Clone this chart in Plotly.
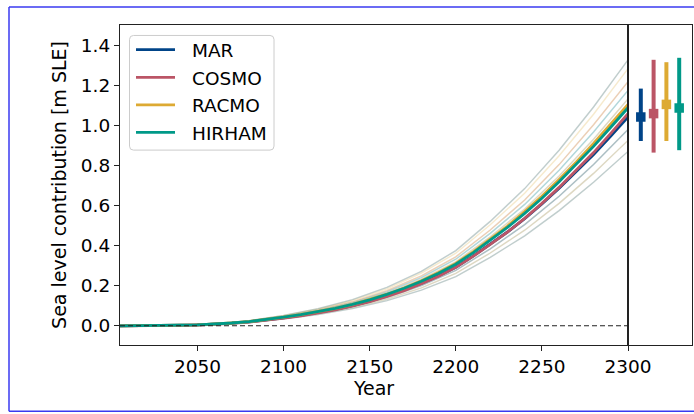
import plotly.graph_objects as go

# ---------------- data ----------------
models = ["MAR", "COSMO", "RACMO", "HIRHAM"]
colors = {"MAR": "#004488", "COSMO": "#BB5566", "RACMO": "#DDAA33", "HIRHAM": "#009988"}

years = [2005, 2010, 2020, 2030, 2040, 2050, 2060, 2070, 2080, 2090, 2100, 2110, 2120,
         2130, 2140, 2150, 2160, 2170, 2180, 2190, 2200, 2210, 2220, 2230, 2240, 2250,
         2260, 2270, 2280, 2290, 2300]

mar_mean = [0, 0, 0.001, 0.002, 0.003, 0.005, 0.008, 0.013, 0.020, 0.029, 0.040, 0.052, 0.066,
            0.082, 0.101, 0.123, 0.149, 0.179, 0.212, 0.250, 0.293, 0.348, 0.408, 0.469, 0.536,
            0.609, 0.688, 0.770, 0.857, 0.949, 1.044]
cosmo_mean = [0, 0, 0.001, 0.001, 0.002, 0.004, 0.007, 0.012, 0.018, 0.027, 0.038, 0.050, 0.064,
              0.080, 0.099, 0.121, 0.147, 0.176, 0.210, 0.248, 0.292, 0.347, 0.407, 0.468, 0.537,
              0.612, 0.692, 0.777, 0.866, 0.962, 1.061]
racmo_mean = [0, 0, 0.001, 0.002, 0.003, 0.005, 0.009, 0.014, 0.021, 0.031, 0.043, 0.056, 0.070,
              0.087, 0.107, 0.131, 0.158, 0.189, 0.225, 0.266, 0.312, 0.370, 0.434, 0.499, 0.571,
              0.648, 0.732, 0.819, 0.912, 1.009, 1.107]
hirham_mean = [0, 0, 0.001, 0.002, 0.003, 0.005, 0.009, 0.014, 0.021, 0.031, 0.043, 0.056, 0.070,
               0.087, 0.107, 0.130, 0.157, 0.188, 0.223, 0.263, 0.308, 0.365, 0.428, 0.492, 0.562,
               0.638, 0.720, 0.806, 0.897, 0.993, 1.090]

member_years = [2005, 2020, 2040, 2060, 2080, 2100, 2120, 2140, 2160, 2180, 2200, 2220, 2240,
                2260, 2280, 2300]

mar_members = [
    [0, 0.001, 0.003, 0.008, 0.018, 0.037, 0.060, 0.091, 0.133, 0.190, 0.262, 0.364, 0.478, 0.612, 0.762, 0.927],
    [0, 0.001, 0.003, 0.008, 0.019, 0.039, 0.063, 0.096, 0.141, 0.201, 0.277, 0.385, 0.506, 0.648, 0.807, 0.981],
    [0, 0.001, 0.003, 0.009, 0.020, 0.041, 0.067, 0.102, 0.149, 0.212, 0.293, 0.407, 0.534, 0.684, 0.852, 1.036],
    [0, 0.001, 0.003, 0.009, 0.022, 0.045, 0.073, 0.111, 0.163, 0.232, 0.320, 0.445, 0.584, 0.749, 0.933, 1.134],
    [0, 0.001, 0.003, 0.010, 0.023, 0.046, 0.076, 0.116, 0.170, 0.241, 0.333, 0.462, 0.607, 0.778, 0.969, 1.177],
]
cosmo_members = [
    [0, 0.001, 0.002, 0.007, 0.017, 0.034, 0.056, 0.086, 0.126, 0.178, 0.246, 0.342, 0.450, 0.576, 0.718, 0.872],
    [0, 0.001, 0.003, 0.008, 0.019, 0.039, 0.063, 0.096, 0.141, 0.201, 0.277, 0.385, 0.506, 0.648, 0.807, 0.981],
    [0, 0.001, 0.003, 0.009, 0.021, 0.043, 0.070, 0.107, 0.157, 0.223, 0.308, 0.428, 0.562, 0.720, 0.897, 1.090],
    [0, 0.001, 0.003, 0.010, 0.024, 0.048, 0.078, 0.120, 0.176, 0.250, 0.345, 0.479, 0.629, 0.806, 1.005, 1.221],
    [0, 0.001, 0.004, 0.011, 0.026, 0.052, 0.085, 0.131, 0.192, 0.272, 0.376, 0.522, 0.686, 0.878, 1.094, 1.330],
]
racmo_members = [
    [0, 0.001, 0.003, 0.008, 0.018, 0.037, 0.060, 0.091, 0.133, 0.190, 0.262, 0.364, 0.478, 0.612, 0.762, 0.927],
    [0, 0.001, 0.003, 0.009, 0.020, 0.041, 0.067, 0.102, 0.149, 0.212, 0.293, 0.407, 0.534, 0.684, 0.852, 1.036],
    [0, 0.001, 0.003, 0.009, 0.022, 0.045, 0.073, 0.111, 0.163, 0.232, 0.320, 0.445, 0.584, 0.749, 0.933, 1.134],
    [0, 0.001, 0.003, 0.010, 0.024, 0.048, 0.078, 0.120, 0.176, 0.250, 0.345, 0.479, 0.629, 0.806, 1.005, 1.221],
    [0, 0.001, 0.004, 0.011, 0.025, 0.051, 0.083, 0.126, 0.185, 0.263, 0.363, 0.505, 0.663, 0.850, 1.058, 1.286],
]
hirham_members = [
    [0, 0.001, 0.002, 0.007, 0.017, 0.034, 0.056, 0.086, 0.126, 0.178, 0.246, 0.342, 0.450, 0.576, 0.718, 0.872],
    [0, 0.001, 0.003, 0.008, 0.019, 0.039, 0.063, 0.096, 0.141, 0.201, 0.277, 0.385, 0.506, 0.648, 0.807, 0.981],
    [0, 0.001, 0.003, 0.009, 0.021, 0.044, 0.071, 0.108, 0.158, 0.224, 0.310, 0.430, 0.565, 0.724, 0.902, 1.096],
    [0, 0.001, 0.003, 0.010, 0.023, 0.046, 0.076, 0.116, 0.170, 0.241, 0.333, 0.462, 0.607, 0.778, 0.969, 1.177],
    [0, 0.001, 0.004, 0.011, 0.026, 0.052, 0.085, 0.131, 0.192, 0.272, 0.376, 0.522, 0.686, 0.878, 1.094, 1.330],
]

# 2300 summary per model: median, lower, upper
bar_pos = [1, 2, 3, 4]
bar_median = [1.044, 1.061, 1.107, 1.089]
bar_low = [0.924, 0.866, 0.924, 0.878]
bar_high = [1.186, 1.330, 1.318, 1.340]

y_ticks = [0.0, 0.2, 0.4, 0.6, 0.8, 1.0, 1.2, 1.4]
x_ticks = [2050, 2100, 2150, 2200, 2250, 2300]

means = {"MAR": mar_mean, "COSMO": cosmo_mean, "RACMO": racmo_mean, "HIRHAM": hirham_mean}
members = {"MAR": mar_members, "COSMO": cosmo_members, "RACMO": racmo_members, "HIRHAM": hirham_members}
member_opacity = {"MAR": 0.12, "COSMO": 0.2, "RACMO": 0.24, "HIRHAM": 0.2}

# ---------------- figure ----------------
FONT = "DejaVu Sans"
FS = 18.5
W, H = 694, 414
L, R, T, B = 120, 2, 24.5, 68.5
pw, ph = W - L - R, H - T - B
split = (628 - L) / pw


def px_x(px):
    return (px - L) / pw


def px_y(py):
    return (H - B - py) / ph


fig = go.Figure()

for m in models:
    for series in members[m]:
        fig.add_trace(go.Scatter(x=member_years, y=series, mode="lines",
                                 line=dict(color=colors[m], width=1.4), opacity=member_opacity[m],
                                 showlegend=False, hoverinfo="skip", xaxis="x", yaxis="y"))

for m in models:
    fig.add_trace(go.Scatter(x=years, y=means[m], mode="lines", name=m,
                             line=dict(color=colors[m], width=2.8),
                             showlegend=False, xaxis="x", yaxis="y"))

for i, m in enumerate(models):
    fig.add_trace(go.Scatter(
        x=[bar_pos[i]], y=[bar_median[i]], mode="markers",
        marker=dict(symbol="square", size=9.5, color=colors[m]),
        error_y=dict(type="data", symmetric=False,
                     array=[bar_high[i] - bar_median[i]],
                     arrayminus=[bar_median[i] - bar_low[i]],
                     color=colors[m], thickness=4, width=0),
        showlegend=False, xaxis="x2", yaxis="y2"))

fig.add_shape(type="line", xref="x", yref="y", x0=2005, x1=2300, y0=0, y1=0,
              line=dict(color="#222222", width=1.1, dash="5px,3px"))

# outer blue frame (top, left, bottom edges; right edge lies outside the picture)
frame = dict(color="#3a3af0", width=1.5)
fig.add_shape(type="line", xref="paper", yref="paper", x0=px_x(9), x1=px_x(W + 10),
              y0=px_y(6.5), y1=px_y(6.5), line=frame, layer="below")
fig.add_shape(type="line", xref="paper", yref="paper", x0=px_x(9), x1=px_x(W + 10),
              y0=px_y(412), y1=px_y(412), line=frame, layer="below")
fig.add_shape(type="line", xref="paper", yref="paper", x0=px_x(9), x1=px_x(9),
              y0=px_y(412), y1=px_y(6.5), line=frame, layer="below")

# legend (drawn manually to match matplotlib style)
lx0, lx1, ly0, ly1, rr = 129.5, 274, 35, 150, 4
xa, xb = px_x(lx0), px_x(lx1)
ya, yb = px_y(ly0), px_y(ly1)
rx, ry = rr / pw, rr / ph
path = (f"M {xa+rx},{ya} L {xb-rx},{ya} Q {xb},{ya} {xb},{ya-ry} "
        f"L {xb},{yb+ry} Q {xb},{yb} {xb-rx},{yb} L {xa+rx},{yb} "
        f"Q {xa},{yb} {xa},{yb+ry} L {xa},{ya-ry} Q {xa},{ya} {xa+rx},{ya} Z")
fig.add_shape(type="path", xref="paper", yref="paper", path=path,
              fillcolor="rgba(255,255,255,0.8)", line=dict(color="#cccccc", width=1))
row_y = [49.3, 77.0, 104.7, 132.3]
for m, yy in zip(models, row_y):
    fig.add_shape(type="line", xref="paper", yref="paper",
                  x0=px_x(136), x1=px_x(175), y0=px_y(yy), y1=px_y(yy),
                  line=dict(color=colors[m], width=2.8))
    fig.add_annotation(xref="paper", yref="paper", x=px_x(190), y=px_y(yy + 1),
                       xanchor="left", yanchor="middle", text=m, showarrow=False,
                       font=dict(family=FONT, size=FS, color="black"))

axis_line = dict(showline=True, linecolor="#222222", linewidth=1.2, mirror=True,
                 showgrid=False, zeroline=False, automargin=False)
title_font = dict(family=FONT, size=19, color="black")

fig.update_layout(
    width=W, height=H,
    margin=dict(l=L, r=R, t=T, b=B, pad=0, autoexpand=False),
    paper_bgcolor="white", plot_bgcolor="white",
    font=dict(family=FONT, size=FS, color="black"),
    xaxis=dict(domain=[0, split], range=[2005, 2300], tickvals=x_ticks,
               ticks="outside", ticklen=5, tickwidth=1.2, tickcolor="#222222",
               tickfont=dict(size=FS),
               title=dict(text="Year", standoff=5, font=title_font), **axis_line),
    yaxis=dict(range=[-0.096, 1.504], tickvals=y_ticks,
               ticktext=[f"{v:.1f}" for v in y_ticks],
               ticks="outside", ticklen=5, tickwidth=1.2, tickcolor="#222222",
               tickfont=dict(size=FS),
               title=dict(text="Sea level contribution [m SLE]", standoff=9, font=title_font),
               **axis_line),
    xaxis2=dict(domain=[split, 1], range=[0, 5], anchor="y2", showticklabels=False,
                ticks="", **axis_line),
    yaxis2=dict(anchor="x2", matches="y", showticklabels=False, ticks="", **axis_line),
    showlegend=False,
)

fig.write_html("out.html")
